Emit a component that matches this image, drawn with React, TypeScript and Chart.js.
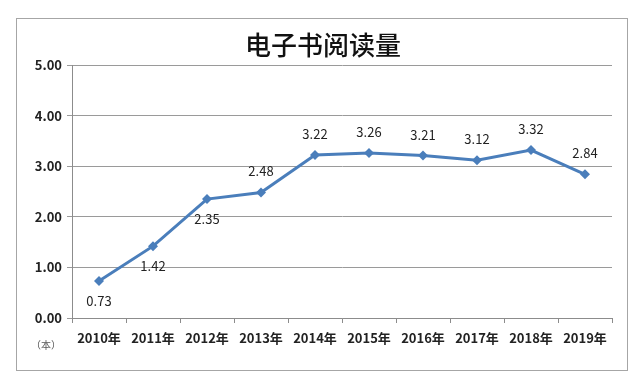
import React, { useEffect, useRef } from "react";
import { Chart, registerables } from "chart.js";

Chart.register(...registerables);

const TITLE = "电子书阅读量";
const UNIT = "（本）";
const categories = ["2010年", "2011年", "2012年", "2013年", "2014年", "2015年", "2016年", "2017年", "2018年", "2019年"];
const values = [0.73, 1.42, 2.35, 2.48, 3.22, 3.26, 3.21, 3.12, 3.32, 2.84];
const labelBelow = [true, true, true, false, false, false, false, false, false, false];

const FONT = "'Noto Sans CJK SC', 'Noto Sans', sans-serif";
const LINE_COLOR = "#4a7ebb";

const decorPlugin = {
  id: "decor",
  beforeDraw(chart: any) {
    const ctx = chart.ctx;
    ctx.save();
    ctx.fillStyle = "#ffffff";
    ctx.fillRect(0, 0, chart.width, chart.height);
    ctx.strokeStyle = "#a6a6a6";
    ctx.lineWidth = 1;
    ctx.strokeRect(16.5, 18.5, 611, 352);
    ctx.restore();
  },
  afterDraw(chart: any) {
    const ctx = chart.ctx;
    ctx.save();
    ctx.fillStyle = "#111111";
    ctx.font = `500 26px ${FONT}`;
    ctx.textAlign = "center";
    ctx.textBaseline = "middle";
    ctx.fillText(TITLE, 323, 45);
    ctx.font = `10px ${FONT}`;
    ctx.fillStyle = "#555555";
    ctx.fillText(UNIT, 46, 345);
    // data labels
    const meta = chart.getDatasetMeta(0);
    ctx.font = `13px ${FONT}`;
    ctx.fillStyle = "#222222";
    meta.data.forEach((pt: any, i: number) => {
      const dy = labelBelow[i] ? 20 : -21;
      ctx.fillText(values[i].toFixed(2), pt.x, pt.y + dy);
    });
    ctx.restore();
  },
};

export default function App() {
  const ref = useRef<HTMLCanvasElement>(null);
  useEffect(() => {
    if (!ref.current) return;
    const chart = new Chart(ref.current, {
      type: "line",
      data: {
        labels: categories,
        datasets: [
          {
            data: values,
            borderColor: LINE_COLOR,
            backgroundColor: LINE_COLOR,
            borderWidth: 3,
            pointStyle: "rectRot",
            pointRadius: 5,
            pointBorderWidth: 0,
            pointBackgroundColor: LINE_COLOR,
            tension: 0,
          },
        ],
      },
      options: {
        animation: false,
        responsive: false,
        maintainAspectRatio: false,
        layout: { padding: { top: 65, right: 28, bottom: 0, left: 0 } },
        plugins: { legend: { display: false }, title: { display: false }, tooltip: { enabled: false } },
        scales: {
          x: {
            offset: true,
            grid: { display: true, drawOnChartArea: false, drawTicks: true, tickLength: 5, offset: true, color: "#8c8c8c" },
            border: { display: true, color: "#8c8c8c" },
            ticks: { color: "#222222", font: { family: FONT, size: 13, weight: "600" }, padding: 7, maxRotation: 0 },
            afterFit(scale: any) {
              scale.height = 65;
            },
          },
          y: {
            min: 0,
            max: 5,
            ticks: {
              stepSize: 1,
              color: "#222222",
              font: { family: FONT, size: 13, weight: "600" },
              padding: 5,
              callback: (v: any) => Number(v).toFixed(2),
            },
            grid: { color: "#9a9a9a", tickLength: 5, drawTicks: true },
            border: { display: true, color: "#8c8c8c" },
            afterFit(scale: any) {
              scale.width = 72;
            },
          },
        },
      },
      plugins: [decorPlugin],
    });
    return () => chart.destroy();
  }, []);
  return (
    <div style={{ position: "fixed", left: 0, top: 0, width: 640, height: 383 }}>
      <canvas ref={ref} width={640} height={383} style={{ display: "block" }} />
    </div>
  );
}
